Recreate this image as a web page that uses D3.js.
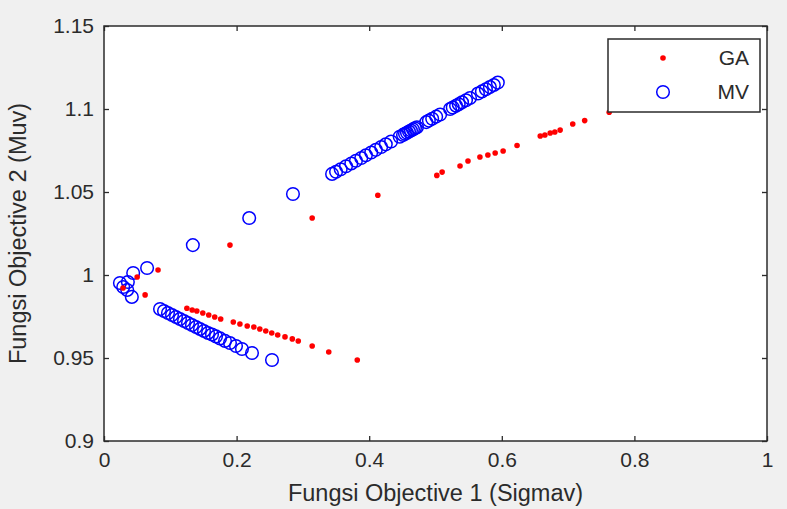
<!DOCTYPE html>
<html><head><meta charset="utf-8">
<script src="https://cdn.jsdelivr.net/npm/d3@7"></script>
<style>
html,body{margin:0;padding:0;background:#f0f0f0;}
svg{display:block;}
text{font-family:"Liberation Sans",Arial,sans-serif;fill:#2b2b2b;}
</style></head>
<body><svg id="c" width="787" height="509"></svg>
<script>
// GA series (red dots)
const gaX = [0.762,0.725,0.707,0.658,0.665,0.673,0.680,0.688,0.623,0.602,0.590,0.579,0.567,0.549,0.537,0.510,0.502,
  0.413,0.314,0.190,0.0815,0.050,0.0287,0.062,
  0.125,0.133,0.140,0.149,0.158,0.167,0.176,0.195,0.205,0.216,0.226,0.235,0.244,0.253,0.262,0.273,0.284,0.293,0.314,0.339,0.382];
const gaY = [1.098,1.093,1.091,1.0837,1.0843,1.0855,1.0861,1.0873,1.078,1.0747,1.0735,1.0723,1.0711,1.0687,1.0657,1.062,1.060,
  1.048,1.0343,1.018,1.003,0.9988,0.9922,0.988,
  0.980,0.9789,0.9783,0.9771,0.9759,0.9747,0.9735,0.9717,0.9705,0.9693,0.9687,0.9675,0.9663,0.9651,0.9639,0.9627,0.9615,0.9602,0.9572,0.9536,0.9488];
// MV series (blue circles)
const mvX = [0.134,0.219,0.285,
  0.344,0.350,0.357,0.365,0.373,0.380,0.388,0.395,0.403,0.410,0.418,0.425,0.433,0.446,0.451,0.454,0.457,0.460,0.463,0.466,0.469,0.472,
  0.486,0.490,0.495,0.501,0.507,0.522,0.526,0.531,0.535,0.540,0.546,0.552,0.564,0.570,0.576,0.582,0.588,0.594,
  0.065,0.044,0.029,0.024,0.036,0.042,0.035,
  0.0845,0.0905,0.0965,0.1026,0.1086,0.1146,0.1207,0.1267,0.1327,0.1388,0.1448,0.1508,0.1569,0.1629,0.1689,0.1750,0.1825,0.1900,0.1991,0.2081,0.2232,0.2534];
const mvY = [1.018,1.0343,1.0488,
  1.0609,1.0622,1.0637,1.0655,1.0672,1.0688,1.0705,1.0721,1.0738,1.0754,1.0771,1.0787,1.0804,1.0833,1.0844,1.0851,1.0857,1.0864,1.0870,1.0877,1.0884,1.0890,
  1.0921,1.0930,1.0941,1.0954,1.0967,1.1000,1.1009,1.1020,1.1029,1.1040,1.1053,1.1066,1.1093,1.1106,1.1119,1.1132,1.1145,1.1159,
  1.0042,1.0012,0.9928,0.9952,0.9958,0.9868,0.991,
  0.9795,0.9783,0.9771,0.9759,0.9747,0.9735,0.9723,0.9711,0.9699,0.9687,0.9675,0.9663,0.9651,0.9642,0.9630,0.9618,0.9603,0.9590,0.9572,0.9554,0.9530,0.9488];
const xTicks = [0,0.2,0.4,0.6,0.8,1];
const yTicks = [0.9,0.95,1,1.05,1.1,1.15];
const xTickLabels = ["0","0.2","0.4","0.6","0.8","1"];
const yTickLabels = ["0.9","0.95","1","1.05","1.1","1.15"];
const seriesNames = ["GA","MV"];
const xLabel = "Fungsi Objective 1 (Sigmav)";
const yLabel = "Fungsi Objective 2 (Muv)";

const L=104, R=767, T=26, B=441;
const svg = d3.select("#c");
const x = d3.scaleLinear().domain([0,1]).range([L,R]);
const y = d3.scaleLinear().domain([0.9,1.15]).range([B,T]);

svg.append("rect").attr("x",L).attr("y",T).attr("width",R-L).attr("height",B-T).attr("fill","#fff");

const fmtX = (d,i)=>xTickLabels[i], fmtY=(d,i)=>yTickLabels[i];
function styleAxis(g){
  g.select(".domain").remove();
  g.selectAll(".tick line").attr("stroke","#2b2b2b").attr("stroke-width",1.3);
  g.selectAll(".tick text").attr("font-size","21px").attr("fill","#2b2b2b");
}
svg.append("g").attr("transform",`translate(0,${B})`)
  .call(d3.axisBottom(x).tickValues(xTicks).tickFormat(fmtX).tickSizeInner(-5).tickSizeOuter(0).tickPadding(11))
  .call(styleAxis);
svg.append("g").attr("transform",`translate(0,${T})`)
  .call(d3.axisTop(x).tickValues(xTicks).tickFormat("").tickSizeInner(-5).tickSizeOuter(0))
  .call(styleAxis);
svg.append("g").attr("transform",`translate(${L},0)`)
  .call(d3.axisLeft(y).tickValues(yTicks).tickFormat(fmtY).tickSizeInner(-5).tickSizeOuter(0).tickPadding(10))
  .call(styleAxis);
svg.append("g").attr("transform",`translate(${R},0)`)
  .call(d3.axisRight(y).tickValues(yTicks).tickFormat("").tickSizeInner(-5).tickSizeOuter(0))
  .call(styleAxis);
svg.append("rect").attr("x",L).attr("y",T).attr("width",R-L).attr("height",B-T)
  .attr("fill","none").attr("stroke","#2b2b2b").attr("stroke-width",1.5);

const ga = gaX.map((v,i)=>({x:v,y:gaY[i]}));
const mv = mvX.map((v,i)=>({x:v,y:mvY[i]}));
svg.append("g").selectAll("circle").data(mv).join("circle")
  .attr("cx",d=>x(d.x)).attr("cy",d=>y(d.y)).attr("r",6.3)
  .attr("fill","none").attr("stroke","#0000ff").attr("stroke-width",1.5);
svg.append("g").selectAll("circle").data(ga).join("circle")
  .attr("cx",d=>x(d.x)).attr("cy",d=>y(d.y)).attr("r",2.8)
  .attr("fill","#ff0000");

svg.append("text").attr("x",(L+R)/2).attr("y",501).attr("text-anchor","middle")
  .attr("font-size","23.5px").text(xLabel);
svg.append("text").attr("transform",`translate(26,${(T+B)/2}) rotate(-90)`).attr("text-anchor","middle")
  .attr("font-size","23.5px").text(yLabel);

const lg = svg.append("g");
lg.append("rect").attr("x",608).attr("y",39).attr("width",152).attr("height",73)
  .attr("fill","#fff").attr("stroke","#2b2b2b").attr("stroke-width",1.5);
lg.append("circle").attr("cx",663).attr("cy",58).attr("r",2.8).attr("fill","#ff0000");
lg.append("circle").attr("cx",663).attr("cy",92).attr("r",6.3).attr("fill","none").attr("stroke","#0000ff").attr("stroke-width",1.5);
lg.append("text").attr("x",749).attr("y",65).attr("text-anchor","end").attr("font-size","21px").text(seriesNames[0]);
lg.append("text").attr("x",749).attr("y",99).attr("text-anchor","end").attr("font-size","21px").text(seriesNames[1]);
</script></body></html>
